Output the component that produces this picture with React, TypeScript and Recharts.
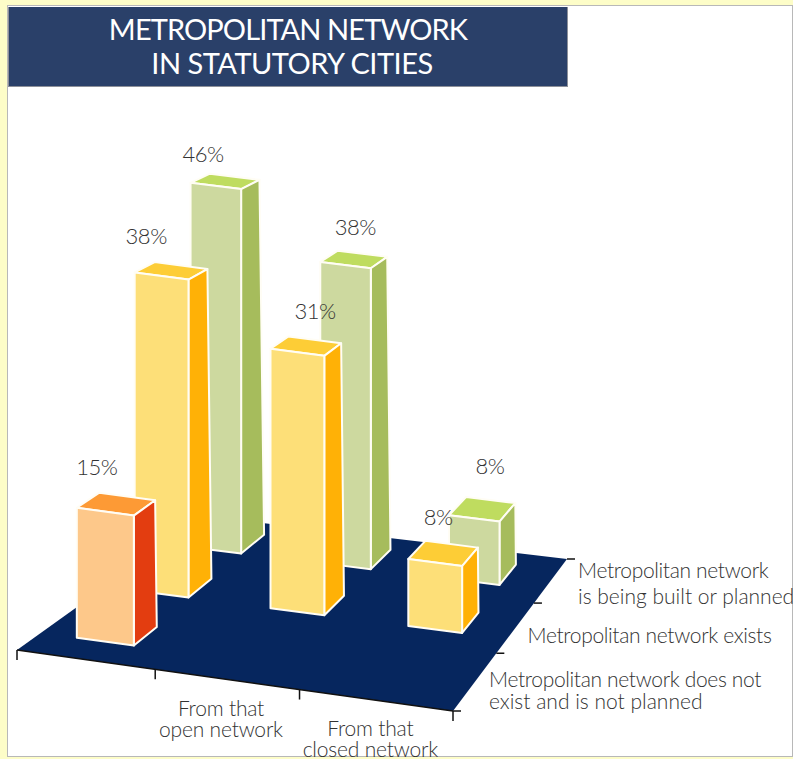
import { Bar, BarChart, Customized, XAxis, YAxis } from "recharts";

// chart values
const categories = ["", "From that\nopen network", "From that\nclosed network"];
const notPlanned = [15, null, null];
const exists = [38, 31, 8];
const beingBuilt = [46, 38, 8];
const rowLabels = [
    "Metropolitan network does not\nexist and is not planned",
    "Metropolitan network exists",
    "Metropolitan network\nis being built or planned",
];
const title = ["METROPOLITAN NETWORK", "IN STATUTORY CITIES"];

const chartData = categories.map((name, i) => ({
    name,
    notPlanned: notPlanned[i],
    exists: exists[i],
    beingBuilt: beingBuilt[i],
}));

// floor of the 3D box, in page pixels
const FL = [17, 650];
const FR = [453, 711];
const BL = [204, 516];
const BR = [567, 559];

const PLOT_LEFT = 17;
const PLOT_W = 436;
const BAR_SIZE = 58;
const FONT = "Lato, 'Open Sans', sans-serif";
const INK = "#333";

const project = (s: number, t: number) => {
    const fx = FL[0] + s * (FR[0] - FL[0]);
    const fy = FL[1] + s * (FR[1] - FL[1]);
    const bx = BL[0] + s * (BR[0] - BL[0]);
    const by = BL[1] + s * (BR[1] - BL[1]);
    return [fx + t * (bx - fx), fy + t * (by - fy)];
};

const poly = (pts: number[][]) => pts.map((p) => p.join(",")).join(" ");

const rowT = [1 / 6, 1 / 2, 5 / 6];
const rowScale = [1.083, 1.046, 0.99];
const HALF_DEPTH = 0.0675;

const palettes = [
    { front: "#fdc88a", top: "#fd9a35", side: "#e33d10" },
    { front: "#fddf78", top: "#fdcd36", side: "#ffb106" },
    { front: "#cdd99f", top: "#bfdc5f", side: "#a6bc5c" },
];

// the source is hand drawn, so bars sit a little off the floor grid
const barShift = [
    [[-2, -5], [0, 0], [0, 0]],
    [[-4, -7], [-3, -7], [0, -7]],
    [[-8, -5], [-5, -5], [-3, -5]],
];

// label position relative to the front left corner of each bar's top
const labelNudge = [
    [[20, -33], [0, 0], [0, 0]],
    [[11.5, -28], [44.5, -30], [30, -34]],
    [[12.5, -21], [35, -27], [41, -41]],
];

const Bar3D = (props: any) => {
    const { x, width, height, value, index, row } = props;
    if (value === null || value === undefined) return null;
    const s0 = (x - PLOT_LEFT) / PLOT_W;
    const s1 = (x + width - PLOT_LEFT) / PLOT_W;
    const t0 = rowT[row] - HALF_DEPTH;
    const t1 = rowT[row] + HALF_DEPTH;
    const h = height * rowScale[row];
    const shift = barShift[row][index];
    const at = (s: number, t: number) => {
        const p = project(s, t);
        return [p[0] + shift[0], p[1] + shift[1]];
    };
    const a = at(s0, t0);
    const b = at(s1, t0);
    const c = at(s1, t1);
    const d = at(s0, t1);
    const up = (p: number[]) => [p[0], p[1] - h];
    // tall bars show a flatter top face
    const fx = 1 - (0.2 * h) / 363;
    const fy = 1 - (0.5 * h) / 363;
    const topBack = (front: number[], back: number[]) => [
        front[0] + (back[0] - front[0]) * fx,
        front[1] - h + (back[1] - front[1]) * fy,
    ];
    const cTop = topBack(b, c);
    const dTop = topBack(a, d);
    const col = palettes[row];
    const nudge = labelNudge[row][index];
    return (
        <g stroke="#fffdf5" strokeWidth={2} strokeLinejoin="round">
            <polygon points={poly([up(a), up(b), cTop, dTop])} fill={col.top} />
            <polygon points={poly([b, c, cTop, up(b)])} fill={col.side} />
            <polygon points={poly([a, b, up(b), up(a)])} fill={col.front} />
            <text
                x={a[0] + nudge[0]}
                y={a[1] - h + nudge[1]}
                textAnchor="middle"
                stroke="none"
                fill={INK}
                fontFamily={FONT}
                fontWeight={300}
                fontSize={22}
                letterSpacing={-0.5}
            >
                {value}%
            </text>
        </g>
    );
};

// the tick marks are not evenly spaced in the source
const frontTicks = [0, 0.317, 0.648, 1];
const sideTicks = [0.38, 0.71, 1];

const Floor = () => {
    const rowPos = [
        { x: 489, y: [687, 709], spacing: [-0.35, 0] },
        { x: 527.5, y: [643], spacing: [-0.35] },
        { x: 578, y: [578, 604], spacing: [-0.35, 0] },
    ];
    return (
        <g>
            <polygon points={poly([FL, FR, BR, BL])} fill="#06265e" />
            <polyline points={poly([FL, FR])} fill="none" stroke="#111" strokeWidth={1.5} />
            {frontTicks.map((s) => {
                const p = project(s, 0);
                return <line key={s} x1={p[0]} y1={p[1]} x2={p[0]} y2={p[1] + 10} stroke="#111" strokeWidth={1.5} />;
            })}
            <line x1={FR[0]} y1={FR[1]} x2={FR[0] + 8} y2={FR[1]} stroke="#111" strokeWidth={1.5} />
            {sideTicks.map((t) => {
                const p = project(1, t);
                return <line key={t} x1={p[0]} y1={p[1]} x2={p[0] + 8} y2={p[1]} stroke="#111" strokeWidth={1.5} />;
            })}
            {rowLabels.map((label, i) =>
                label.split("\n").map((line, j) => (
                    <text
                        key={line}
                        x={rowPos[i].x}
                        y={rowPos[i].y[j]}
                        fontFamily={FONT}
                        fontWeight={300}
                        fontSize={21}
                        letterSpacing={rowPos[i].spacing[j]}
                        fill={INK}
                    >
                        {line}
                    </text>
                ))
            )}
        </g>
    );
};

const tickShift = [0, -14, -10];

const CategoryTick = (props: any) => {
    const { payload, index } = props;
    const s = (payload.coordinate - PLOT_LEFT) / PLOT_W;
    const p = project(s, 0);
    return (
        <text textAnchor="middle" fontFamily={FONT} fontWeight={300} fontSize={21} letterSpacing={-0.2} fill={INK}>
            {String(payload.value)
                .split("\n")
                .map((line: string, i: number) => (
                    <tspan key={line} x={p[0] + tickShift[index]} y={p[1] + 35 + i * 21.5}>
                        {line}
                    </tspan>
                ))}
        </text>
    );
};

export default function App() {
    return (
        <div style={{ position: "absolute", left: 0, top: 0, width: 793, height: 759, background: "#fdfdc8", overflow: "hidden" }}>
            <div style={{ position: "absolute", left: 7, top: 5, width: 786, height: 752, background: "#fff", boxSizing: "border-box", border: "1.5px solid #b8b8b8" }} />
            <BarChart
                width={793}
                height={759}
                data={chartData}
                barSize={BAR_SIZE}
                barGap={-BAR_SIZE}
                margin={{ top: 100, right: 340, bottom: 229, left: 17 }}
                style={{ position: "absolute", left: 0, top: 0 }}
            >
                <XAxis dataKey="name" height={30} axisLine={false} tickLine={false} interval={0} tick={<CategoryTick />} />
                <YAxis hide domain={[0, 50]} />
                <Customized component={<Floor />} />
                <Bar dataKey="beingBuilt" isAnimationActive={false} shape={(p: any) => <Bar3D {...p} row={2} />} />
                <Bar dataKey="exists" isAnimationActive={false} shape={(p: any) => <Bar3D {...p} row={1} />} />
                <Bar dataKey="notPlanned" isAnimationActive={false} shape={(p: any) => <Bar3D {...p} row={0} />} />
            </BarChart>
            <div
                style={{
                    position: "absolute",
                    left: 8,
                    top: 7,
                    width: 560,
                    height: 80,
                    boxSizing: "border-box",
                    background: "#2a4069",
                    borderLeft: "1px solid #8d9099",
                    borderBottom: "1px solid #8d9099",
                    borderRight: "1px solid #8d9099",
                    color: "#fff",
                    textAlign: "center",
                    fontFamily: FONT,
                    fontSize: 29,
                    lineHeight: "34px",
                    paddingTop: 5,
                }}
            >
                {title.map((line, i) => (
                    <div key={line} style={{ letterSpacing: i === 0 ? -0.9 : -0.5, position: "relative", left: i === 0 ? 0 : 4 }}>
                        {line}
                    </div>
                ))}
            </div>
        </div>
    );
}
